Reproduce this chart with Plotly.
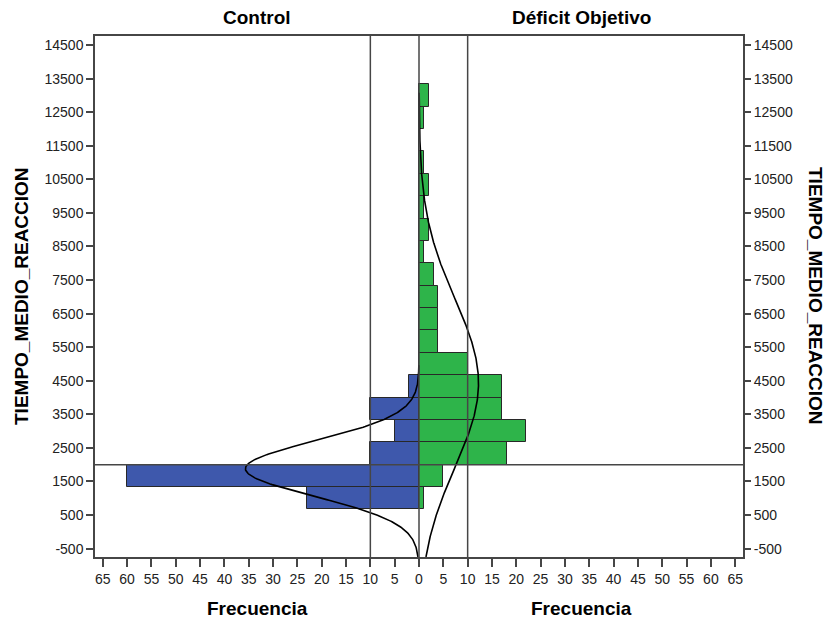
import numpy as np
import plotly.graph_objects as go

# ---------------- data ----------------
BIN_W = 2000 / 3  # histogram bin width (ms)
bin_lower = [BIN_W * k for k in range(1, 20)]  # lower edge of each bin
control_counts = [23, 60, 10, 5, 10, 2, 0, 0, 0, 0, 0, 0, 0, 0, 0, 0, 0, 0, 0]
deficit_counts = [1, 5, 18, 22, 17, 17, 10, 4, 4, 4, 3, 1, 2, 1, 2, 1, 0, 1, 2]

# fitted normal curves
control_mean, control_sd, control_n = 1880, 820, 110
deficit_mean, deficit_sd, deficit_n = 4430, 2500, 115

y_ticks = list(range(-500, 15000, 1000))
y_ticktext = [str(v) for v in y_ticks]
x_ticks = list(range(-65, 70, 5))
x_ticktext = [str(abs(v)) for v in x_ticks]
ref_x = [-10, 0, 10]
ref_y = 2000
group_labels = ["Control", "Déficit Objetivo"]
y_title = "TIEMPO_MEDIO_REACCION"
x_title = "Frecuencia"

Y_RANGE = [-750, 14770]
X_RANGE = [-66.6, 66.6]

BLUE = "rgb(62,88,172)"
GREEN = "rgb(46,180,74)"
EDGE = "rgb(40,40,40)"
AXIS = "rgb(70,70,70)"
FONT = "Liberation Sans, Arial, sans-serif"

centers = [b + BIN_W / 2 for b in bin_lower]

fig = go.Figure()
fig.add_trace(go.Bar(
    y=centers, x=[-c for c in control_counts], orientation="h", width=BIN_W,
    marker=dict(color=BLUE, line=dict(color=EDGE, width=1)), showlegend=False,
))
fig.add_trace(go.Bar(
    y=centers, x=deficit_counts, orientation="h", width=BIN_W,
    marker=dict(color=GREEN, line=dict(color=EDGE, width=1)), showlegend=False,
))

yy = np.linspace(Y_RANGE[0], Y_RANGE[1], 800)


def normal_counts(y, m, s, n):
    return n * BIN_W * np.exp(-0.5 * ((y - m) / s) ** 2) / (s * np.sqrt(2 * np.pi))


for m, s, n, sign in [(control_mean, control_sd, control_n, -1),
                      (deficit_mean, deficit_sd, deficit_n, 1)]:
    v = normal_counts(yy, m, s, n)
    keep = v >= 0.03
    fig.add_trace(go.Scatter(
        x=sign * v[keep], y=yy[keep], mode="lines",
        line=dict(color="black", width=1.6), showlegend=False,
    ))

# invisible trace for right axis
fig.add_trace(go.Scatter(x=[0], y=[0], yaxis="y2", mode="markers",
                         marker=dict(opacity=0), showlegend=False, hoverinfo="skip"))

shapes = []
for xv in ref_x:
    shapes.append(dict(type="line", xref="x", yref="paper", x0=xv, x1=xv, y0=0, y1=1,
                       line=dict(color=AXIS, width=1.5), layer="above"))
shapes.append(dict(type="line", xref="paper", yref="y", x0=0, x1=1, y0=ref_y, y1=ref_y,
                   line=dict(color=AXIS, width=1.5), layer="above"))

tick_font = dict(family=FONT, size=14, color="#222")
title_font = dict(family=FONT, size=19, color="black")

L, R, T, B = 95, 89, 36, 67
pw, ph = 832 - L - R, 624 - T - B


def px(xp, yp):
    return (xp - L) / pw, 1 - (yp - T) / ph


ann = []
for text, xp, yp, ang in [
    (group_labels[0], 257, 18, 0), (group_labels[1], 581, 18, 0),
    (x_title, 257, 608, 0), (x_title, 581, 608, 0),
    (y_title, 21, 296, -90), (y_title, 816, 296, 90),
]:
    xx, yv = px(xp, yp)
    ann.append(dict(text="<b>%s</b>" % text, x=xx, y=yv, xref="paper", yref="paper",
                    xanchor="center", yanchor="middle", textangle=ang,
                    showarrow=False, font=title_font))

fig.update_layout(
    width=832, height=624,
    margin=dict(l=L, r=R, t=T, b=B),
    paper_bgcolor="white", plot_bgcolor="white",
    barmode="overlay", bargap=0,
    shapes=shapes, annotations=ann,
    xaxis=dict(range=X_RANGE, tickvals=x_ticks, ticktext=x_ticktext,
               showgrid=False, zeroline=False, showline=True, linecolor=AXIS, linewidth=1.5,
               mirror=True, ticks="outside", ticklen=8, tickcolor=AXIS, tickwidth=1.5,
               tickfont=tick_font),
    yaxis=dict(range=Y_RANGE, tickvals=y_ticks, ticktext=y_ticktext, showgrid=False,
               zeroline=False, showline=True, linecolor=AXIS, linewidth=1.5, mirror=True,
               ticks="outside", ticklen=7, tickcolor=AXIS, tickwidth=1.5, tickfont=tick_font),
    yaxis2=dict(range=Y_RANGE, tickvals=y_ticks, ticktext=y_ticktext, overlaying="y",
                side="right", showgrid=False, zeroline=False, showline=False,
                ticks="outside", ticklen=7, tickcolor=AXIS, tickwidth=1.5, tickfont=tick_font),
)

fig.write_html("out.html")
